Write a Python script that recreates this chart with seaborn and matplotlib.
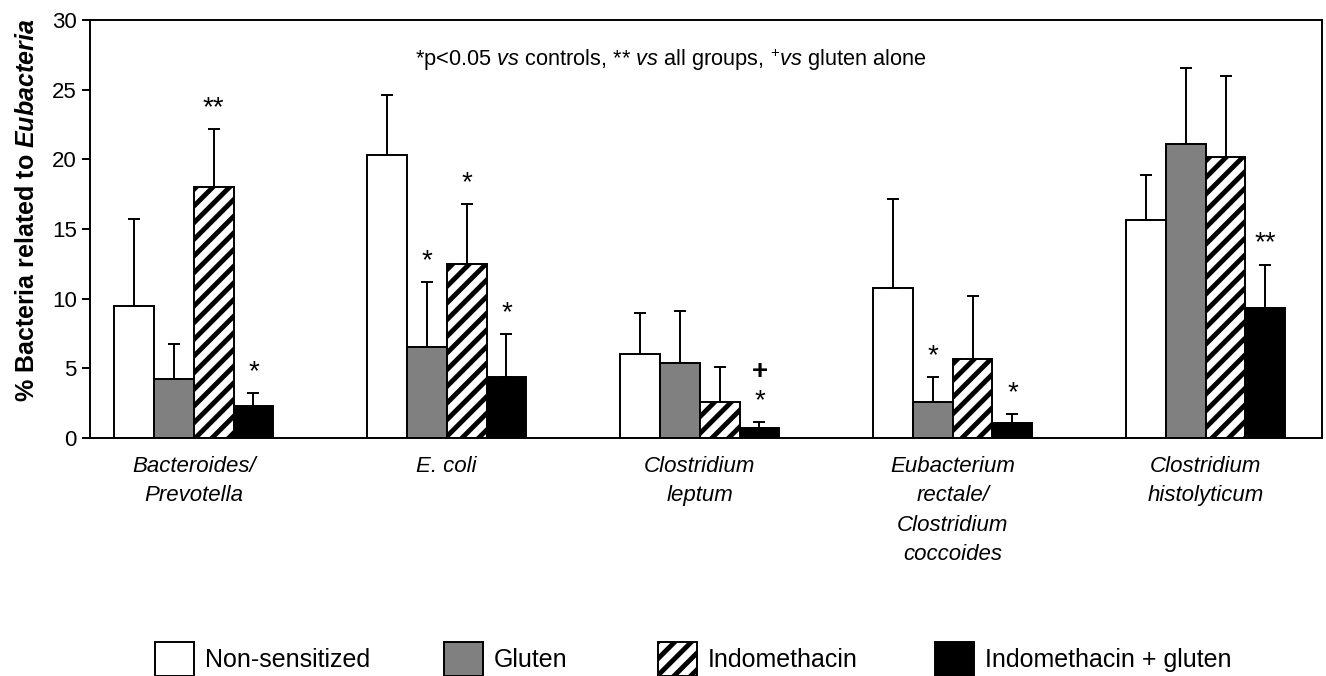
import seaborn as sns
import matplotlib.pyplot as plt
import matplotlib.patches as mpatches
import numpy as np
import pandas as pd

BUGS = ["Bacteroides/\nPrevotella", "E. coli", "Clostridium\nleptum",
        "Eubacterium\nrectale/\nClostridium\ncoccoides", "Clostridium\nhistolyticum"]
GROUPS = ["Non-sensitized", "Gluten", "Indomethacin", "Indomethacin + gluten"]

non_sens = [9.45, 20.3, 6.0, 10.8, 15.65]
gluten = [4.2, 6.5, 5.35, 2.6, 21.1]
indo = [18.0, 12.5, 2.55, 5.65, 20.2]
indo_gluten = [2.3, 4.4, 0.75, 1.1, 9.3]

non_sens_err = [6.25, 4.3, 3.0, 6.35, 3.25]
gluten_err = [2.55, 4.7, 3.8, 1.8, 5.45]
indo_err = [4.2, 4.3, 2.55, 4.55, 5.8]
indo_gluten_err = [0.95, 3.05, 0.4, 0.65, 3.15]

# significance marks drawn above the error bars
non_sens_sig = ["", "", "", "", ""]
gluten_sig = ["", "*", "", "*", ""]
indo_sig = ["**", "*", "", "", ""]
indo_gluten_sig = ["*", "*", "*", "*", "**"]
indo_gluten_plus = ["", "", "+", "", ""]

COLORS = ["white", "#808080", "white", "black"]
HATCHES = ["", "", "//", ""]

means = [non_sens, gluten, indo, indo_gluten]
errs = [non_sens_err, gluten_err, indo_err, indo_gluten_err]
sigs = [non_sens_sig, gluten_sig, indo_sig, indo_gluten_sig]

df = pd.DataFrame({
    "bug": BUGS * len(GROUPS),
    "group": np.repeat(GROUPS, len(BUGS)),
    "value": np.concatenate(means),
})

sns.set_theme()
sns.set_style("ticks")
plt.rcParams['font.family'] = ['Liberation Sans', 'DejaVu Sans']
plt.rcParams['text.color'] = 'black'
plt.rcParams['axes.labelcolor'] = 'black'
plt.rcParams['mathtext.fontset'] = 'custom'
plt.rcParams['mathtext.rm'] = 'Liberation Sans'
plt.rcParams['mathtext.it'] = 'Liberation Sans:italic'
plt.rcParams['mathtext.bf'] = 'Liberation Sans:bold'
plt.rcParams['mathtext.bfit'] = 'Liberation Sans:italic:bold'
plt.rcParams['hatch.linewidth'] = 3.5
plt.rcParams['hatch.color'] = 'black'

W, H = 1326, 676
fig = plt.figure(figsize=(W / 100, H / 100), dpi=100)
ax = fig.add_axes([90 / W, 1 - 438 / H, (1322 - 90) / W, (438 - 20) / H])

sns.barplot(data=df, x="bug", y="value", hue="group", hue_order=GROUPS,
            palette=COLORS, saturation=1, width=0.63, errorbar=None,
            edgecolor="black", linewidth=1.4, legend=False, ax=ax)

bars = list(ax.containers)
for cont, hatch, err, sig in zip(bars, HATCHES, errs, sigs):
    xs = [b.get_x() + b.get_width() / 2 for b in cont]
    ys = [b.get_height() for b in cont]
    for b in cont:
        b.set_hatch(hatch)
    ax.errorbar(xs, ys, yerr=[np.zeros(len(err)), err], fmt='none',
                ecolor='black', elinewidth=1.4, capsize=4, capthick=1.4)
    for x, y, e, s in zip(xs, ys, err, sig):
        if s:
            ax.text(x, y + e + 1.5, s, ha='center', va='center', fontsize=20)

# the "+" above the last group's star
for b, e, p in zip(bars[-1], indo_gluten_err, indo_gluten_plus):
    if p:
        ax.text(b.get_x() + b.get_width() / 2, b.get_height() + e + 3.6, p,
                ha='center', va='center', fontsize=20, fontweight='bold')

ax.text(0.4716, 0.905,
        r"*p<0.05 $\it{vs}$ controls, ** $\it{vs}$ all groups, $^{+}\it{vs}$ gluten alone",
        transform=ax.transAxes, ha='center', va='center', fontsize=15.7)

ax.set_ylim(0, 30)
ax.set_yticks(np.arange(0, 31, 5))
ax.set_xlim(-0.41, 4.46)
ax.set_xlabel("")
ax.set_ylabel(r"% Bacteria related to $\mathbfit{Eubacteria}$",
              fontsize=18, fontweight='bold', labelpad=9)
ax.yaxis.label.set_y(0.545)
ax.tick_params(axis='y', direction='out', length=6, width=1.4, labelsize=16,
               color='black', labelcolor='black')
ax.tick_params(axis='x', length=0, pad=13, labelsize=16, labelcolor='black')
for lbl in ax.get_xticklabels():
    lbl.set_fontstyle('italic')
    lbl.set_linespacing(1.52)
for sp in ax.spines.values():
    sp.set_visible(True)
    sp.set_color('black')
    sp.set_linewidth(1.4)

# legend along the bottom, one entry at a time so the gaps match
LEGEND_X = [155, 444, 658, 935]
for g, c, h, x in zip(GROUPS, COLORS, HATCHES, LEGEND_X):
    handle = mpatches.Patch(facecolor=c, edgecolor='black', hatch=h, linewidth=1.4)
    fig.legend(handles=[handle], labels=[g], loc='center left',
               bbox_to_anchor=(x / W, 1 - 659 / H), frameon=False, fontsize=18,
               handlelength=1.56, handleheight=1.75, handletextpad=0.44,
               borderpad=0, borderaxespad=0)

fig.savefig("out.png", dpi=100)
